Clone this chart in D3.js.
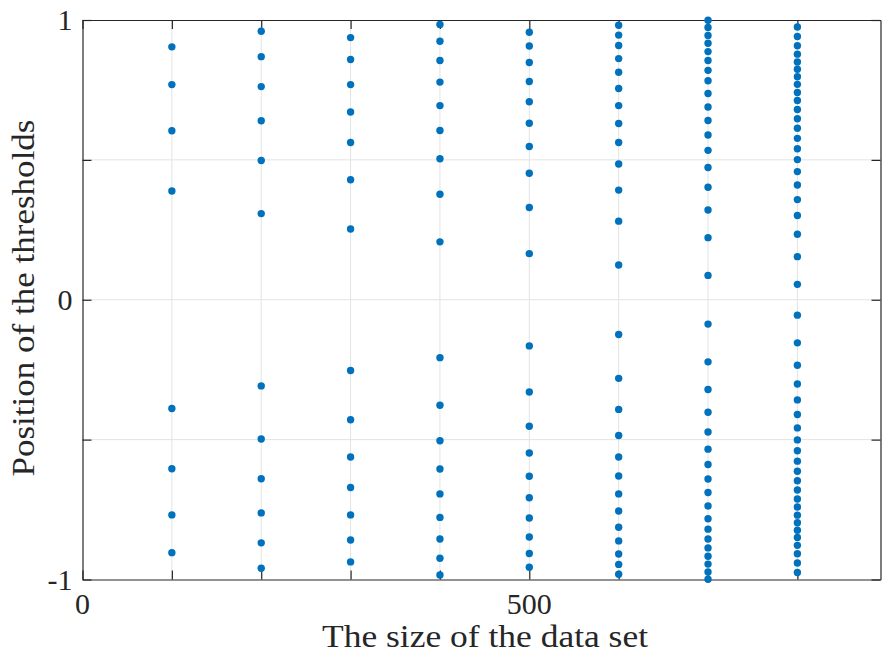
<!DOCTYPE html>
<html>
<head>
<meta charset="utf-8">
<script src="https://cdn.jsdelivr.net/npm/d3@7"></script>
<style>
  body { margin: 0; background: #ffffff; }
  text { font-family: "Liberation Serif", "Times New Roman", Times, serif; fill: #262626; }
</style>
</head>
<body>
<div id="chart_area"></div>
<script>
// data set sizes (x) and threshold positions
var sizes = [100, 200, 300, 400, 500, 600, 700, 800];

var t100 = [-0.904, -0.769, -0.604, -0.389, 0.389, 0.604, 0.769, 0.904];
var t200 = [-0.960, -0.869, -0.762, -0.640, -0.498, -0.308, 0.308, 0.498, 0.640, 0.762, 0.869, 0.960];
var t300 = [-0.937, -0.859, -0.769, -0.671, -0.562, -0.429, -0.253, 0.253, 0.429, 0.562, 0.671, 0.769, 0.859, 0.937];
var t400 = [-0.984, -0.924, -0.855, -0.778, -0.694, -0.605, -0.504, -0.377, -0.207,
  0.207, 0.377, 0.504, 0.605, 0.694, 0.778, 0.855, 0.924, 0.984];
var t500 = [-0.956, -0.907, -0.848, -0.780, -0.708, -0.631, -0.548, -0.452, -0.330, -0.165,
  0.165, 0.330, 0.452, 0.548, 0.631, 0.708, 0.780, 0.848, 0.907, 0.956];
var t600 = [-0.981, -0.946, -0.909, -0.862, -0.813, -0.755, -0.694, -0.630, -0.562, -0.485, -0.392, -0.281, -0.124,
  0.124, 0.281, 0.392, 0.485, 0.562, 0.630, 0.694, 0.755, 0.813, 0.862, 0.909, 0.946, 0.981];
var t700 = [-0.999, -0.973, -0.945, -0.917, -0.887, -0.855, -0.820, -0.783, -0.737, -0.689, -0.641, -0.589,
  -0.534, -0.473, -0.402, -0.321, -0.222, -0.087,
  0.087, 0.222, 0.321, 0.402, 0.473, 0.534, 0.589, 0.641, 0.689, 0.737, 0.783, 0.820,
  0.855, 0.887, 0.917, 0.945, 0.973, 0.999];
var t800 = [-0.975, -0.941, -0.908, -0.878, -0.850, -0.824, -0.797, -0.770, -0.741, -0.712, -0.680, -0.647,
  -0.613, -0.577, -0.540, -0.501, -0.458, -0.410, -0.358, -0.301, -0.234, -0.154, -0.055,
  0.055, 0.154, 0.234, 0.301, 0.358, 0.410, 0.458, 0.501, 0.540, 0.577, 0.613, 0.647,
  0.680, 0.712, 0.741, 0.770, 0.797, 0.824, 0.850, 0.878, 0.908, 0.941, 0.975];

var thresholds = [t100, t200, t300, t400, t500, t600, t700, t800];

var xTicks = [0, 100, 200, 300, 400, 500, 600, 700, 800];
var xTickLabels = { 0: "0", 500: "500" };
var yTicks = [-1, -0.5, 0, 0.5, 1];
var yTickLabels = { "-1": "-1", "0": "0", "1": "1" };
var xDomain = [0, 893];
var yDomain = [-1, 1];

// dimensions
var canvas_width = 882,
  canvas_height = 656;
var margin = { top: 20, right: 1.5, bottom: 76.5, left: 82.5 };
var plot_right = canvas_width - margin.right,
  plot_bottom = canvas_height - margin.bottom;

var x = d3.scaleLinear().domain(xDomain).range([margin.left, plot_right]);
var y = d3.scaleLinear().domain(yDomain).range([plot_bottom, margin.top]);

var svg = d3.select("#chart_area")
  .append("svg")
  .attr("width", canvas_width)
  .attr("height", canvas_height);

// flatten to points
var points = [];
sizes.forEach(function (s, i) {
  thresholds[i].forEach(function (v) { points.push({ size: s, value: v }); });
});

// grid
var grid = svg.append("g").attr("stroke", "#e3e3e3").attr("stroke-width", 1);
grid.selectAll(".vgrid")
  .data(xTicks.filter(d => d > xDomain[0]))
  .join("line")
  .attr("x1", d => x(d)).attr("x2", d => x(d))
  .attr("y1", margin.top).attr("y2", plot_bottom);
grid.selectAll(".hgrid")
  .data(yTicks.filter(d => d > yDomain[0] && d < yDomain[1]))
  .join("line")
  .attr("x1", margin.left).attr("x2", plot_right)
  .attr("y1", d => y(d)).attr("y2", d => y(d));

// box axes with inward ticks
var tickLen = 9;
function addAxis(axis, transform) {
  svg.append("g")
    .attr("transform", transform)
    .call(axis)
    .call(g => g.selectAll("path.domain").attr("stroke", "#262626").attr("stroke-width", 1.2))
    .call(g => g.selectAll(".tick line").attr("stroke", "#262626").attr("stroke-width", 1.2))
    .call(g => g.selectAll(".tick text").remove());
}
addAxis(d3.axisBottom(x).tickValues(xTicks).tickSizeInner(-tickLen).tickSizeOuter(0),
  `translate(0,${plot_bottom})`);
addAxis(d3.axisTop(x).tickValues(xTicks).tickSizeInner(-tickLen).tickSizeOuter(0),
  `translate(0,${margin.top})`);
addAxis(d3.axisLeft(y).tickValues(yTicks).tickSizeInner(-tickLen).tickSizeOuter(0),
  `translate(${margin.left},0)`);
addAxis(d3.axisRight(y).tickValues(yTicks).tickSizeInner(-tickLen).tickSizeOuter(0),
  `translate(${plot_right},0)`);

// tick labels
svg.append("g").selectAll("text")
  .data(xTicks.filter(d => xTickLabels[d] !== undefined))
  .join("text")
  .attr("x", d => x(d))
  .attr("y", 614)
  .attr("text-anchor", "middle")
  .attr("font-size", 30)
  .text(d => xTickLabels[d]);

svg.append("g").selectAll("text")
  .data(yTicks.filter(d => yTickLabels[String(d)] !== undefined))
  .join("text")
  .attr("x", margin.left - 10)
  .attr("y", d => y(d))
  .attr("dy", "0.34em")
  .attr("text-anchor", "end")
  .attr("font-size", 30)
  .text(d => yTickLabels[String(d)]);

// axis titles
svg.append("text")
  .attr("x", 485)
  .attr("y", 647)
  .attr("text-anchor", "middle")
  .attr("font-size", 32)
  .attr("textLength", 326)
  .attr("lengthAdjust", "spacingAndGlyphs")
  .text("The size of the data set");

svg.append("text")
  .attr("transform", "translate(34,298) rotate(-90)")
  .attr("text-anchor", "middle")
  .attr("font-size", 32)
  .attr("textLength", 357)
  .attr("lengthAdjust", "spacingAndGlyphs")
  .text("Position of the thresholds");

// markers
svg.append("g").selectAll("circle")
  .data(points)
  .join("circle")
  .attr("cx", d => x(d.size))
  .attr("cy", d => y(d.value))
  .attr("r", 3.7)
  .attr("fill", "#0072BD");
</script>
</body>
</html>
